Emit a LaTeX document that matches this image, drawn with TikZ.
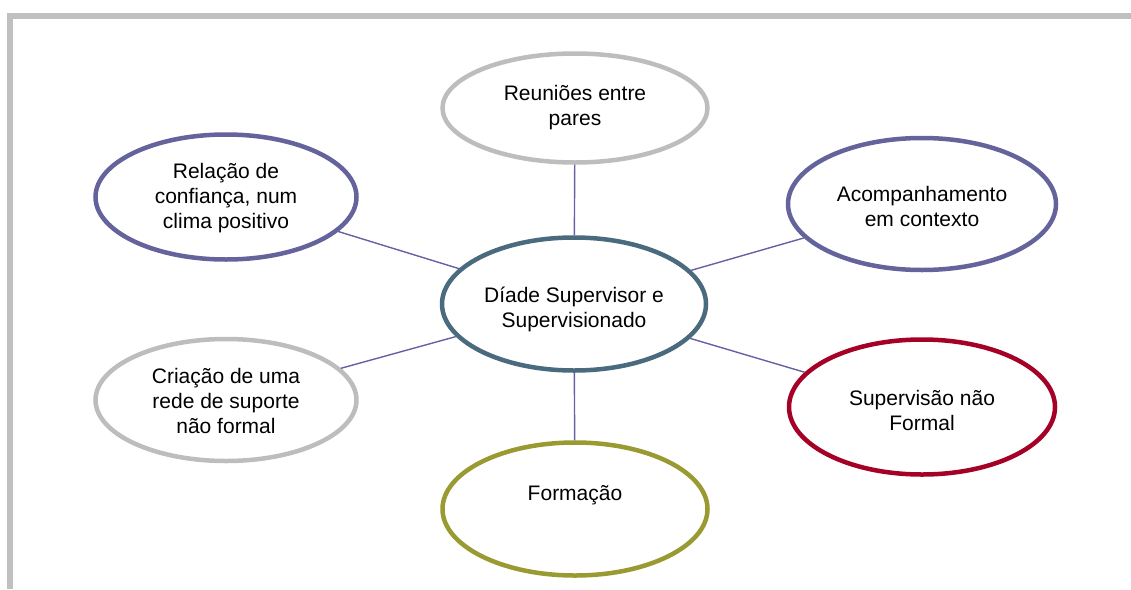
\documentclass[tikz,border=0pt]{standalone}
\usepackage{fontspec}
\setmainfont{Liberation Sans}
\usetikzlibrary{shapes.geometric}
\definecolor{frameGray}{HTML}{C0C0C0}
\definecolor{ringGray}{HTML}{BDBDBD}
\definecolor{ringPurple}{HTML}{64639C}
\definecolor{ringTeal}{HTML}{4A6A7E}
\definecolor{ringRed}{HTML}{A50026}
\definecolor{ringOlive}{HTML}{9A9A32}
\definecolor{linkPurple}{HTML}{6462A2}
\tikzset{
  ell/.style={ellipse, draw, line width=4.5pt, inner sep=0pt, fill=white},
  txt/.style={align=center, font=\fontsize{21}{25}\selectfont, text=black, inner sep=0pt},
  link/.style={draw=linkPurple, line width=1.4pt},
}
\begin{document}
\begin{tikzpicture}[x=1pt,y=-1pt]
\useasboundingbox (0,0) rectangle (1131,589);
% frame
\draw[frameGray, line width=6pt] (7,15.5) -- (1131,15.5);
\draw[frameGray, line width=6pt] (10,12.5) -- (10,589);
% nodes
\node[ell, draw=ringTeal, minimum width=264pt, minimum height=133pt,
  label={[txt, yshift=-5pt]center:{Díade Supervisor e\\Supervisionado}}] (c) at (574,304) {};
\node[ell, draw=ringGray, minimum width=265pt, minimum height=109pt,
  label={[txt, yshift=0pt]center:{Reuniões entre\\pares}}] (t) at (575,108) {};
\node[ell, draw=ringPurple, minimum width=261pt, minimum height=125pt,
  label={[txt, yshift=-1pt]center:{Relação de\\confiança, num\\clima positivo}}] (lu) at (226,197) {};
\node[ell, draw=ringPurple, minimum width=268pt, minimum height=132pt,
  label={[txt, yshift=-2pt]center:{Acompanhamento\\em contexto}}] (ru) at (922,204) {};
\node[ell, draw=ringGray, minimum width=261pt, minimum height=122pt,
  label={[txt, yshift=-1pt]center:{Criação de uma\\rede de suporte\\não formal}}] (ll) at (226,400) {};
\node[ell, draw=ringRed, minimum width=266pt, minimum height=135pt,
  label={[txt, yshift=-3pt]center:{Supervisão não\\Formal}}] (rl) at (922,407) {};
\node[ell, draw=ringOlive, minimum width=265pt, minimum height=133pt,
  label={[txt, yshift=14pt]center:{Formação}}] (b) at (575,509) {};
% connectors
\begin{scope}[on background layer/.style={}]
\end{scope}
\path[link] (c) -- (t);
\path[link] (c) -- (lu);
\path[link] (c) -- (ru);
\path[link] (c) -- (ll);
\path[link] (c) -- (rl);
\path[link] (c) -- (b);
\end{tikzpicture}
\end{document}
